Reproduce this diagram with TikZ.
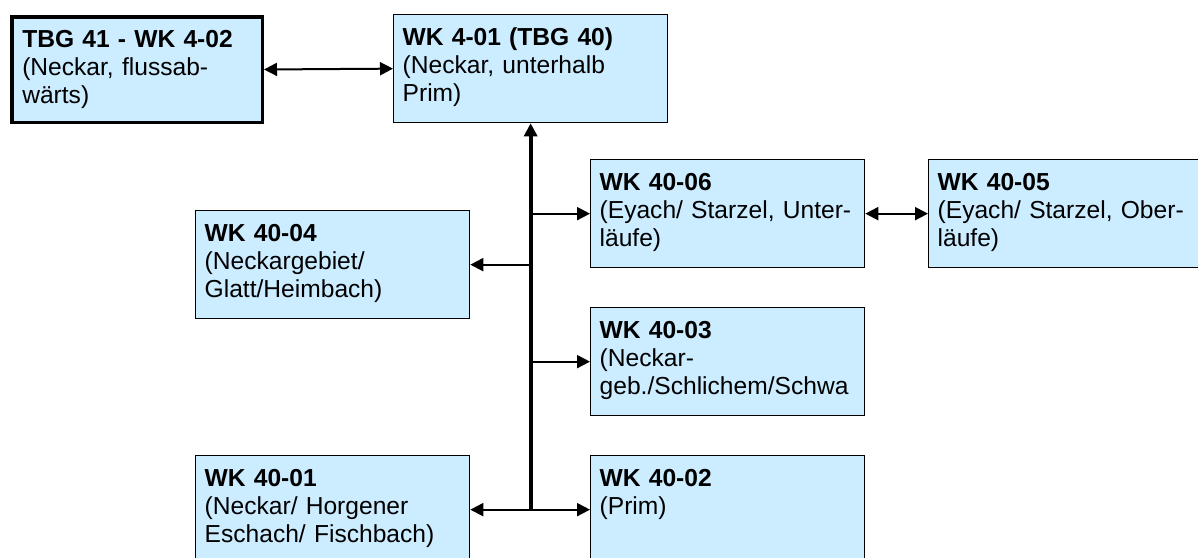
\documentclass[tikz,border=0pt]{standalone}
\usepackage{fontspec}
\setmainfont{Liberation Sans}
\usetikzlibrary{arrows.meta}
\definecolor{wkFill}{RGB}{204,236,255}
\tikzset{
  wkbox/.style={draw, line width=1.3pt, fill=wkFill, anchor=north west, align=left,
    inner xsep=9pt, inner ysep=13pt, text width=256pt, text height=17.5pt, text depth=64.5pt,
    font=\fontsize{24.6}{28.2}\selectfont},
  tbgbox/.style={wkbox, line width=3.5pt, inner xsep=10.5pt, text width=229.5pt, text depth=62pt},
  link/.style={line width=2pt, >={Triangle[length=13pt,width=13pt]}},
  trunk/.style={link, line width=4pt}
}

\begin{document}
\begin{tikzpicture}[x=1pt,y=-1pt]
  \useasboundingbox (0,0) rectangle (1198,557);
  \clip (0,0) rectangle (1198,557);
  % top row
  \node[tbgbox] (tbg41) at (10,15) {\textbf{TBG 41 - WK 4-02}\\(Neckar, flussab-\\wärts)};
  \node[wkbox] (wk401) at (393,14) {\textbf{WK 4-01 (TBG 40)}\\(Neckar, unterhalb\\Prim)};
  % water bodies below, the last row runs off the page
  \node[wkbox] (wk4006) at (590,159) {\textbf{WK 40-06}\\(Eyach/ Starzel, Unter-\\läufe)};
  \node[wkbox] (wk4005) at (928,159) {\textbf{WK 40-05}\\(Eyach/ Starzel, Ober-\\läufe)};
  \node[wkbox] (wk4004) at (195,210) {\textbf{WK 40-04}\\(Neckargebiet/\\Glatt/Heimbach)};
  \node[wkbox] (wk4003) at (590,307) {\textbf{WK 40-03}\\(Neckar-\\geb./Schlichem/Schwa};
  \node[wkbox] (wk4001) at (195,455) {\textbf{WK 40-01}\\(Neckar/ Horgener\\Eschach/ Fischbach)};
  \node[wkbox] (wk4002) at (590,455) {\textbf{WK 40-02}\\(Prim)};

  \draw[link,<->] (tbg41.east) -- (wk401.west);
  \draw[trunk,->] (wk401.south |- wk4001.east) -- (wk401.south);
  \draw[link,->] (wk401.south |- wk4006.west) -- (wk4006.west);
  \draw[link,<->] (wk4006.east) -- (wk4005.west);
  \draw[link,->] (wk401.south |- wk4004.east) -- (wk4004.east);
  \draw[link,->] (wk401.south |- wk4003.west) -- (wk4003.west);
  \draw[link,<->] (wk4001.east) -- (wk4002.west);
\end{tikzpicture}
\end{document}
